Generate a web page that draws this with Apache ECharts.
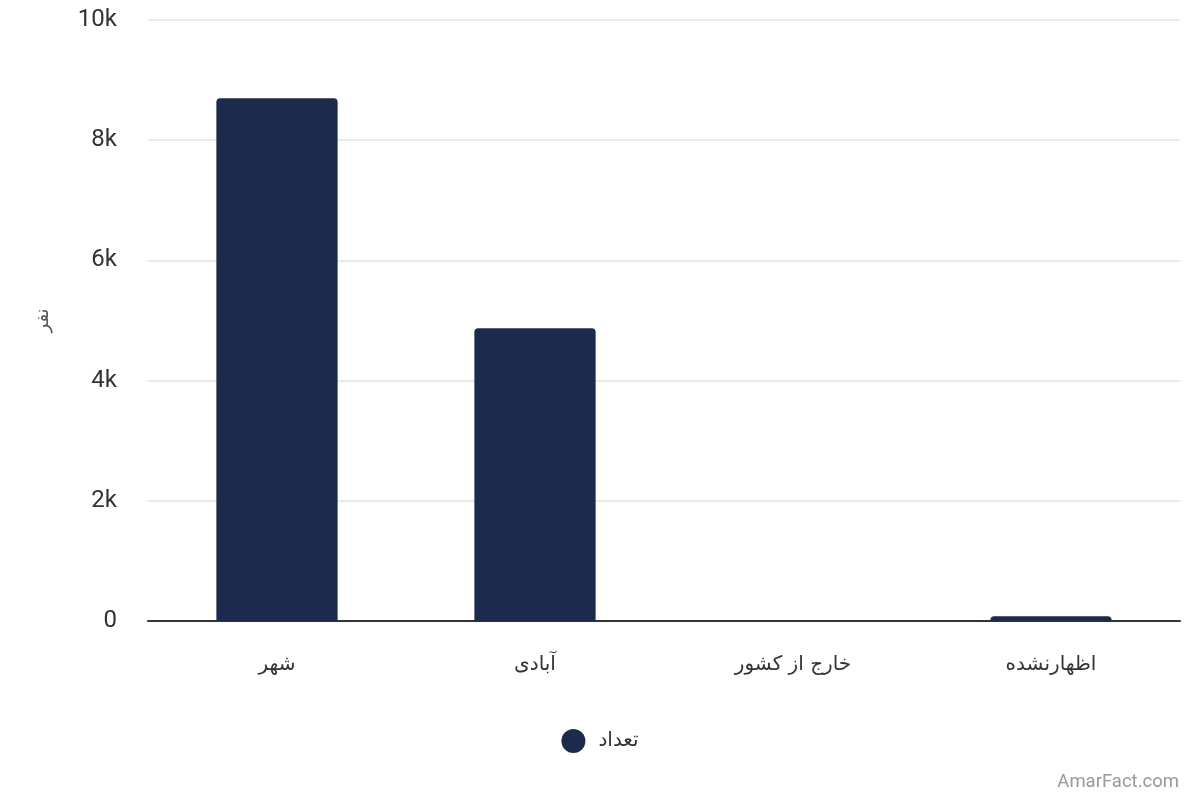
<!DOCTYPE html>
<html><head><meta charset="utf-8">
<script src="https://cdn.jsdelivr.net/npm/echarts@6/dist/echarts.min.js"></script>
<style>html,body{margin:0;padding:0;background:#fff}#c{width:1200px;height:800px}</style>
</head><body><div id="c"></div>
<script>
const categories = ['شهر', 'آبادی', 'خارج از کشور', 'اظهارنشده'];
const counts = [8700, 4870, 0, 80];
const seriesName = 'تعداد';
const yTicks = [0, 2000, 4000, 6000, 8000, 10000];
const yAxisName = 'نفر';

const chart = echarts.init(document.getElementById('c'));
chart.setOption({
  animation: false,
  textStyle: { fontFamily: 'Roboto, "Noto Sans", sans-serif' },
  grid: { left: 148, right: 20, top: 20, bottom: 179 },
  legend: {
    data: [seriesName], bottom: 42, left: 'center', icon: 'circle',
    itemWidth: 24, itemHeight: 24, itemGap: 10,
    textStyle: { fontSize: 20, color: '#333', padding: [0, 0, 0, 8], fontFamily: '"DejaVu Sans", sans-serif' }
  },
  graphic: [{
    type: 'text', right: 21, bottom: 8,
    style: { text: 'AmarFact.com', fontSize: 18.5, fill: '#999', fontFamily: 'Roboto, sans-serif' }
  }],
  xAxis: {
    type: 'category', data: categories,
    axisLine: { lineStyle: { color: '#333', width: 2 } },
    axisTick: { show: false },
    axisLabel: { fontSize: 20, color: '#333', margin: 34, fontFamily: '"DejaVu Sans", sans-serif' }
  },
  yAxis: {
    type: 'value', min: yTicks[0], max: yTicks[yTicks.length - 1], interval: 2000,
    name: yAxisName, nameLocation: 'middle', nameGap: 96, nameRotate: 90,
    nameTextStyle: { fontSize: 18, color: '#555', fontFamily: '"DejaVu Sans", sans-serif' },
    axisLabel: { fontSize: 24, color: '#333', margin: 31,
      formatter: v => v === 0 ? '0' : (v / 1000) + 'k' },
    splitLine: { lineStyle: { color: '#e3e3e3', width: 1.5 } }
  },
  series: [{
    name: seriesName, type: 'bar', data: counts, barWidth: '47%',
    itemStyle: { color: '#1c2a4d', borderRadius: [4, 4, 0, 0] }
  }]
});
</script></body></html>
